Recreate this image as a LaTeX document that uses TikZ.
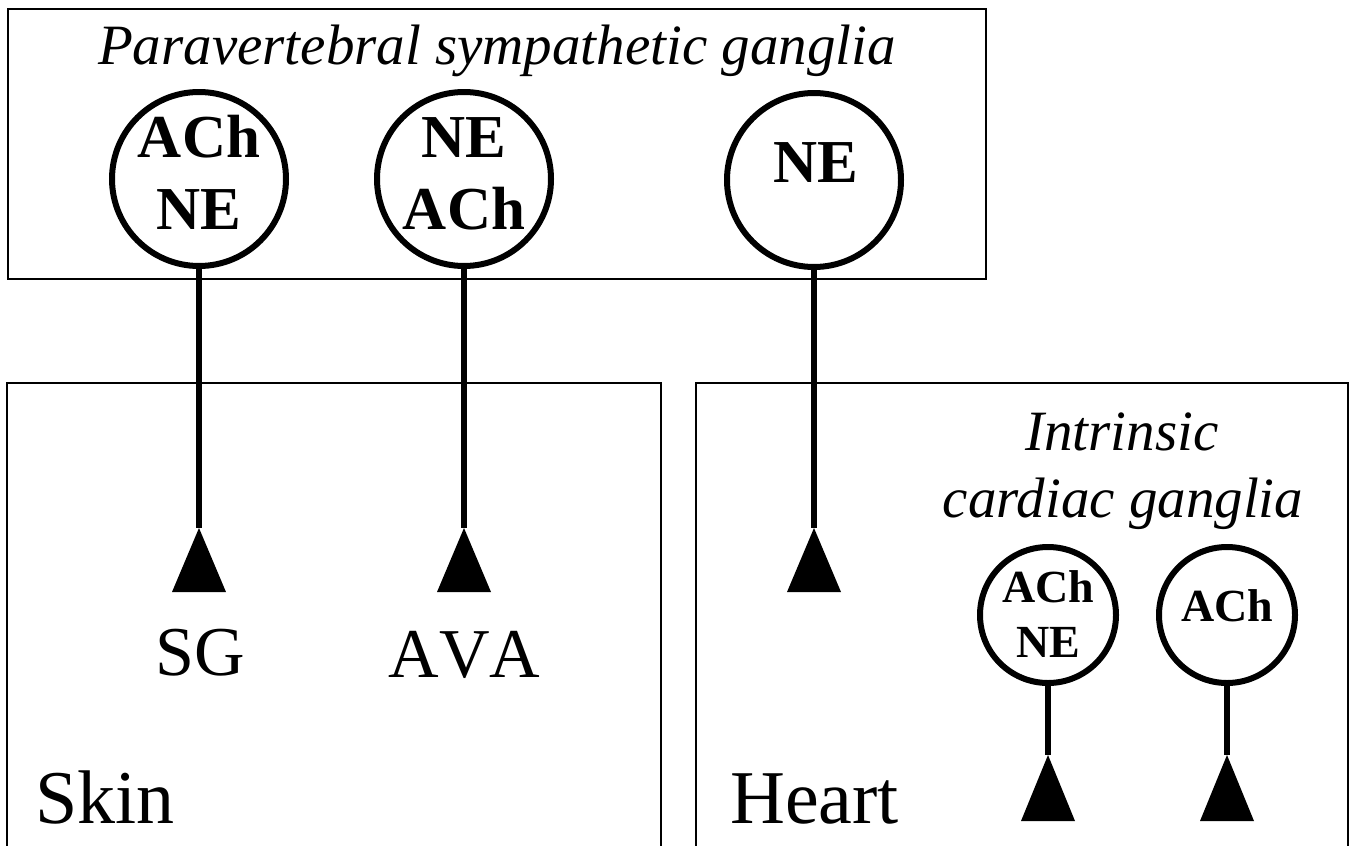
\documentclass[tikz,border=0pt]{standalone}
\usepackage{fontspec}
\setmainfont{Liberation Serif}
\begin{document}
\begin{tikzpicture}[x=1pt,y=-1pt,
  frame/.style={line width=2.2pt},
  bigcell/.style={circle,draw,line width=6pt,minimum size=174pt,inner sep=0pt,fill=white},
  smallcell/.style={circle,draw,line width=6pt,minimum size=136pt,inner sep=0pt,fill=white},
  bigtx/.style={anchor=base,inner sep=0pt,font=\fontsize{61}{61}\selectfont\bfseries},
  smalltx/.style={anchor=base,inner sep=0pt,font=\fontsize{46}{46}\selectfont\bfseries},
  axon/.style={line width=6.5pt},
  term/.style={fill=black},
  ititle/.style={anchor=base,inner sep=0pt,font=\fontsize{57}{57}\selectfont\itshape},
  target/.style={anchor=base,inner sep=0pt,font=\fontsize{70}{70}\selectfont},
  organ/.style={anchor=base west,inner sep=0pt,font=\fontsize{76}{76}\selectfont}]
\useasboundingbox (0,0) rectangle (1352,846);
% frames
\draw[frame] (8,9) rectangle (986,279);
\draw[frame] (7,847) -- (7,383) -- (661,383) -- (661,847);
\draw[frame] (696,847) -- (696,383) -- (1348,383) -- (1348,847);
% title
\node[ititle] (title) at (497,64) {Paravertebral sympathetic ganglia};
% paravertebral neurons
\node[bigcell] (c1) at (199,179) {};
\node[bigtx] (c1a) at (199,157) {ACh};
\node[bigtx] (c1b) at (199,229) {NE};
\node[bigcell] (c2) at (464,179) {};
\node[bigtx] (c2a) at (464,157) {NE};
\node[bigtx] (c2b) at (464,229) {ACh};
\node[bigcell] (c3) at (814,180) {};
\node[bigtx] (c3a) at (816,182) {NE};
% terminals
\coordinate (t1) at (199,528);
\coordinate (t2) at (464,528);
\coordinate (t3) at (814,528);
\draw[axon] (c1.south) -- (t1);
\draw[axon] (c2.south) -- (t2);
\draw[axon] (c3.south) -- (t3);
\fill[term] (t1) -- ++(-27,64) -- ++(54,0) -- cycle;
\fill[term] (t2) -- ++(-27,64) -- ++(54,0) -- cycle;
\fill[term] (t3) -- ++(-27,64) -- ++(54,0) -- cycle;
\node[target] (sg) at (200,675) {SG};
\node[target] (ava) at (464.5,677) {\addfontfeature{Kerning=Off}AVA};
% organ labels
\node[organ] (skin) at (35,823) {Skin};
\node[organ] (heart) at (730,823) {Heart};
% intrinsic cardiac ganglia
\node[ititle] (icg1) at (1122,450) {Intrinsic};
\node[ititle] (icg2) at (1123,517) {cardiac ganglia};
\node[smallcell] (d1) at (1048,615) {};
\node[smalltx] (d1a) at (1048,602) {ACh};
\node[smalltx] (d1b) at (1048,657) {NE};
\node[smallcell] (d2) at (1227,615) {};
\node[smalltx] (d2a) at (1227,621) {ACh};
\coordinate (u1) at (1048,755);
\coordinate (u2) at (1227,755);
\draw[axon] (d1.south) -- (u1);
\draw[axon] (d2.south) -- (u2);
\fill[term] (u1) -- ++(-27,66) -- ++(54,0) -- cycle;
\fill[term] (u2) -- ++(-27,66) -- ++(54,0) -- cycle;
\end{tikzpicture}
\end{document}
